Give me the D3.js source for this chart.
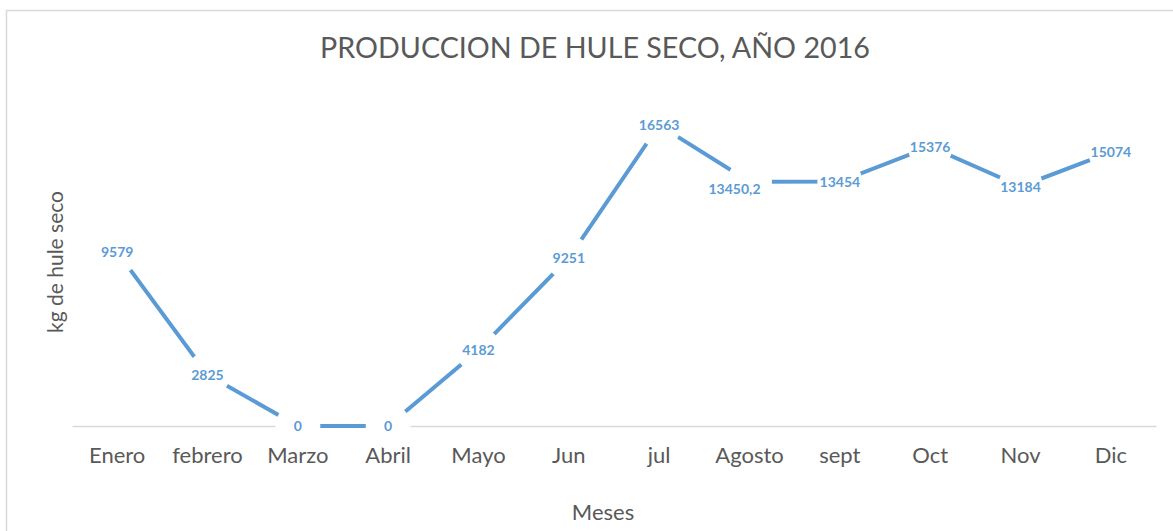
<!DOCTYPE html>
<html>
<head>
<meta charset="utf-8">
<script src="https://cdn.jsdelivr.net/npm/d3@7/dist/d3.min.js"></script>
<style>
  html, body { margin: 0; padding: 0; background: #fff; }
  svg { display: block; }
  text { font-family: Lato, "Open Sans", sans-serif; }
</style>
</head>
<body>
<svg id="chart" width="1173" height="531"></svg>
<script>
const months = ["Enero", "febrero", "Marzo", "Abril", "Mayo", "Jun", "jul", "Agosto", "sept", "Oct", "Nov", "Dic"];
const production = [9579, 2825, 0, 0, 4182, 9251, 16563, 13450.2, 13454, 15376, 13184, 15074];
const yDomain = [0, 18000];
const titleText = "PRODUCCION DE HULE SECO, AÑO 2016";
const xTitle = "Meses";
const yTitle = "kg de hule seco";

const W = 1173, H = 531;
const margin = { left: 72, right: 17, top: 99, bottom: 105 };
const plotRight = W - margin.right;
const plotBottom = H - margin.bottom;

const svg = d3.select("#chart");
const lineColor = "#5B9BD5";
const textColor = "#595959";

// chart border
svg.append("rect")
  .attr("x", 6.5).attr("y", 10.5)
  .attr("width", W + 20).attr("height", H + 20)
  .attr("fill", "#fff").attr("stroke", "#d9d9d9").attr("stroke-width", 1.5);

const x = d3.scaleBand().domain(months).range([margin.left, plotRight]).padding(0);
const y = d3.scaleLinear().domain(yDomain).range([plotBottom, margin.top]);
const cx = m => x(m) + x.bandwidth() / 2;

// x axis
const xAxis = d3.axisBottom(x).tickSize(0).tickPadding(0);
const gx = svg.append("g").attr("transform", `translate(0,${y(0)})`).call(xAxis);
gx.select(".domain").attr("stroke", "#d9d9d9").attr("stroke-width", 1.5);
gx.selectAll(".tick text")
  .attr("fill", textColor)
  .attr("font-size", "22px")
  .attr("dy", null)
  .attr("y", 37);

// line
const line = d3.line().x((d, i) => cx(months[i])).y(d => y(d));
svg.append("path")
  .datum(production)
  .attr("fill", "none")
  .attr("stroke", lineColor)
  .attr("stroke-width", 4)
  .attr("d", line);

// white marker halos that cut the line around each point
svg.append("g").selectAll("circle")
  .data(production)
  .join("circle")
  .attr("cx", (d, i) => cx(months[i]))
  .attr("cy", d => y(d))
  .attr("r", 22.5)
  .attr("fill", "#fff");

// data labels
const locale = d3.formatLocale({ decimal: ",", thousands: "", grouping: [3], currency: ["", ""] });
const fmt = v => Number.isInteger(v) ? locale.format("d")(v) : locale.format(".1f")(v);
const nudge = { 7: [-15, 7] };
svg.append("g").selectAll("text")
  .data(production)
  .join("text")
  .attr("x", (d, i) => cx(months[i]) + (nudge[i] ? nudge[i][0] : 0))
  .attr("y", (d, i) => y(d) + (nudge[i] ? nudge[i][1] : 0))
  .attr("dy", "0.36em")
  .attr("text-anchor", "middle")
  .attr("font-size", "14px")
  .attr("font-weight", 700)
  .attr("fill", lineColor)
  .text(d => fmt(d));

// title
const t = svg.append("text")
  .attr("x", 595).attr("y", 58)
  .attr("text-anchor", "middle")
  .attr("fill", textColor)
  .attr("font-size", "26px")
  .text(titleText);
const tw = t.node().getComputedTextLength();
if (tw > 0) t.attr("font-size", (26 * 550 / tw).toFixed(2) + "px");

// axis titles
svg.append("text")
  .attr("x", 603).attr("y", 520)
  .attr("text-anchor", "middle")
  .attr("fill", textColor)
  .attr("font-size", "22px")
  .text(xTitle);

svg.append("text")
  .attr("transform", "translate(63,262) rotate(-90)")
  .attr("text-anchor", "middle")
  .attr("fill", textColor)
  .attr("font-size", "21px")
  .text(yTitle);
</script>
</body>
</html>
